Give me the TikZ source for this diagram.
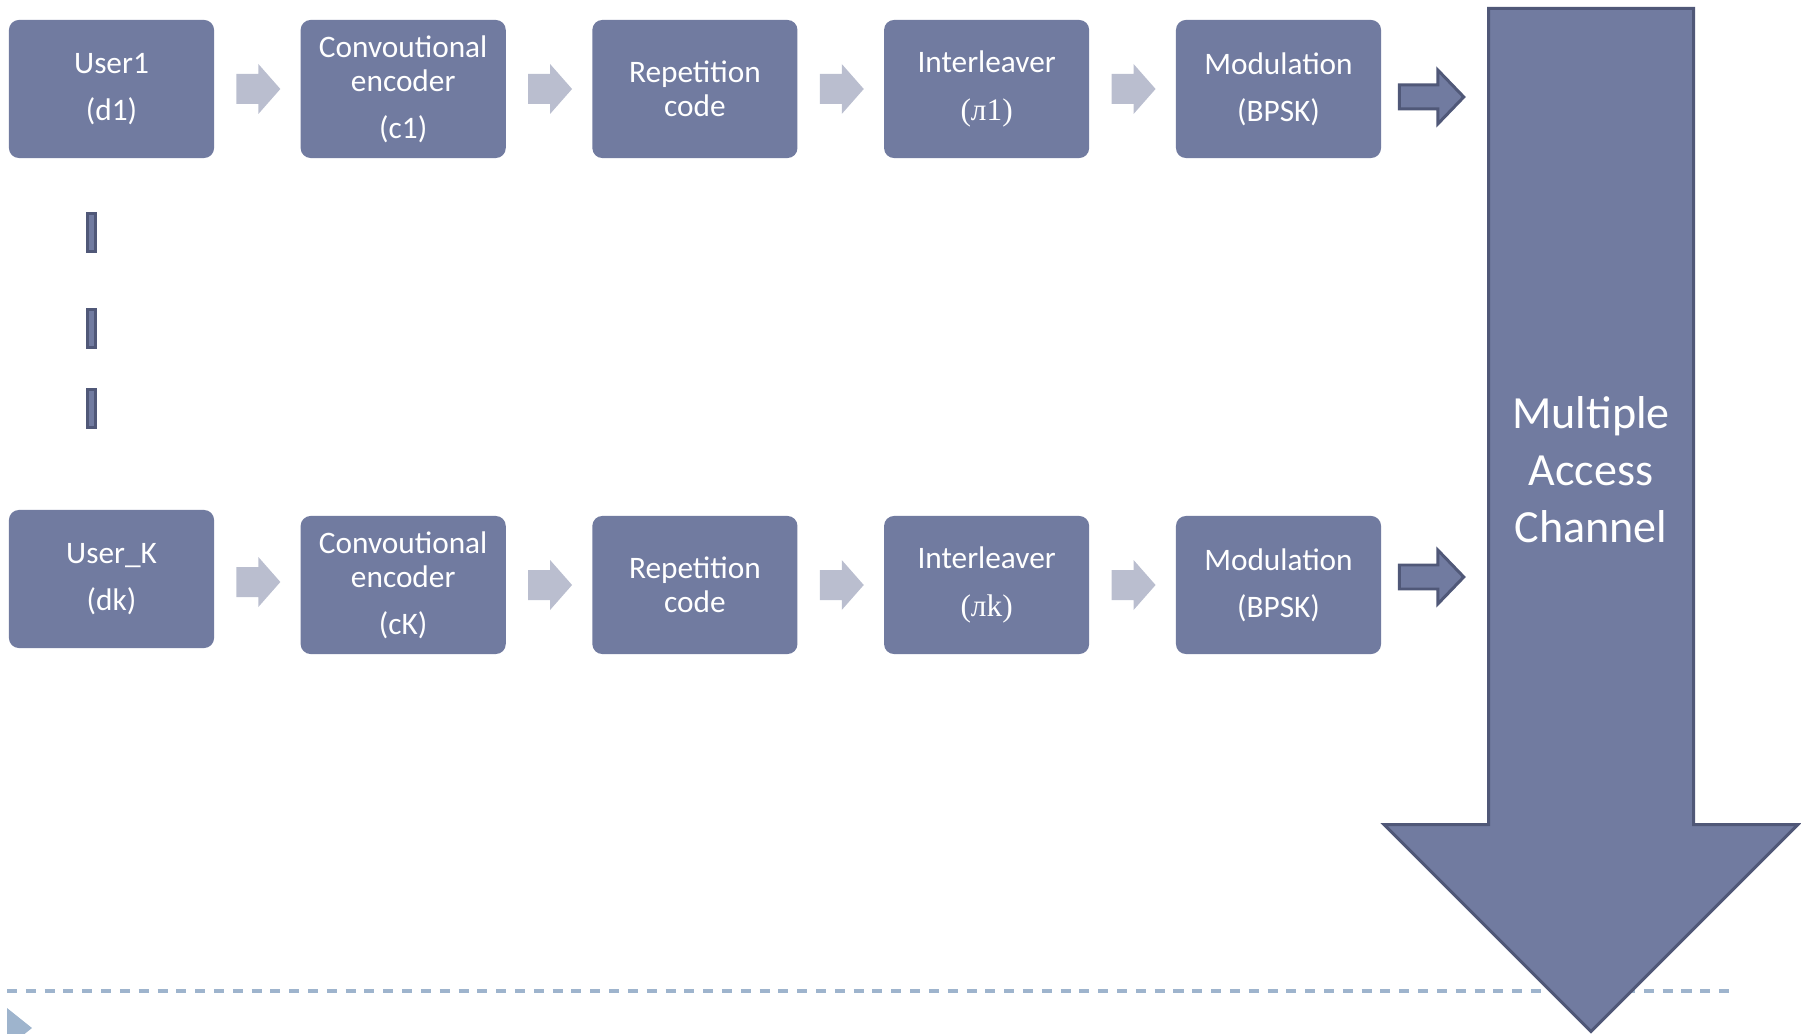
\documentclass[tikz,border=0pt]{standalone}
\usepackage{fontspec}
\setmainfont{Carlito}
\newfontfamily\cyrserif{Liberation Serif}
\usetikzlibrary{calc}
\definecolor{boxfill}{RGB}{113,123,160}
\definecolor{boxline}{RGB}{80,88,120}
\definecolor{flowgray}{RGB}{186,190,207}
\definecolor{dashblue}{RGB}{158,180,205}
\tikzset{
	block/.style={fill=boxfill, rounded corners=0.1cm, minimum width=2.05cm, minimum height=1.38cm, inner sep=0pt, text=white, align=center, font=\fontsize{8.9}{9.7}\selectfont},
	pics/flowarrow/.style={code={\fill [flowgray] (-21,-15) -- (1,-15) -- (1,-25) -- (23,0) -- (1,25) -- (1,15) -- (-21,15) -- cycle;}},
	pics/feedarrow/.style={code={\filldraw [fill=boxfill, draw=boxline, line width=0.85pt] (1.5,-12) -- (40,-12) -- (40,-27) -- (66,0) -- (40,27) -- (40,12) -- (1.5,12) -- cycle;}},
}
\begin{document}
\begin{tikzpicture}[x=0.01cm, y=-0.01cm]
		\useasboundingbox (0,0) rectangle (1801,1034);
		% Trennlinie unten
		\draw [dashblue, line width=0.9pt, dash pattern=on 2.85pt off 2.5pt] (7,991) -- (1735,991);
		\fill [dashblue] (7,1008) -- (32,1028) -- (24.5,1034) -- (7,1034) -- cycle;
		% Kanal
		\filldraw [fill=boxfill, draw=boxline, line width=0.85pt] (1488.5,8.5) -- (1693.5,8.5) -- (1693.5,824.5) -- (1798,824.5) -- (1591,1031.5) -- (1384,824.5) -- (1488.5,824.5) -- cycle;
		\node [text=white, align=center, font=\fontsize{13.1}{16.2}\selectfont] (mac) at (1591,470) {Multiple\\Access\\Channel};
		% Zeile oben
		\node [block] (u1) at (111.5,89) {User1\\[3.7pt](d1)};
		\node [block] (enc1) at (403.2,89) {Convoutional\\encoder\\[3.7pt](c1)};
		\node [block] (rep1) at (694.9,89) {Repetition\\code};
		\node [block] (int1) at (986.6,89) {Interleaver\\[3.7pt]{\cyrserif(л1)}};
		\node [block] (mod1) at (1278.5,89) {Modulation\\[3.7pt](BPSK)};
		% Zeile unten
		\node [block] (uk) at (111.5,579) {User\_K\\[3.7pt](dk)};
		\node [block] (enck) at (403.2,585) {Convoutional\\encoder\\[3.7pt](cK)};
		\node [block] (repk) at (694.9,585) {Repetition\\code};
		\node [block] (intk) at (986.6,585) {Interleaver\\[3.7pt]{\cyrserif(лk)}};
		\node [block] (modk) at (1278.5,585) {Modulation\\[3.7pt](BPSK)};
		% Pfeile
		\foreach \a/\b in {u1/enc1, enc1/rep1, rep1/int1, int1/mod1, uk/enck, enck/repk, repk/intk, intk/modk} {
			\pic at ($(\a.east)!0.5!(\b.west)$) {flowarrow};
		}
		\pic at ($(mod1.east)+(16,8)$) {feedarrow};
		\pic at ($(modk.east)+(16,-8)$) {feedarrow};
		% Punkte zwischen den Nutzern
		\foreach \y in {212,308,388} {
			\filldraw [fill=boxfill, draw=boxline, line width=0.85pt] (87.5,\y+1.5) rectangle ++(8,38);
		}
\end{tikzpicture}
\end{document}
